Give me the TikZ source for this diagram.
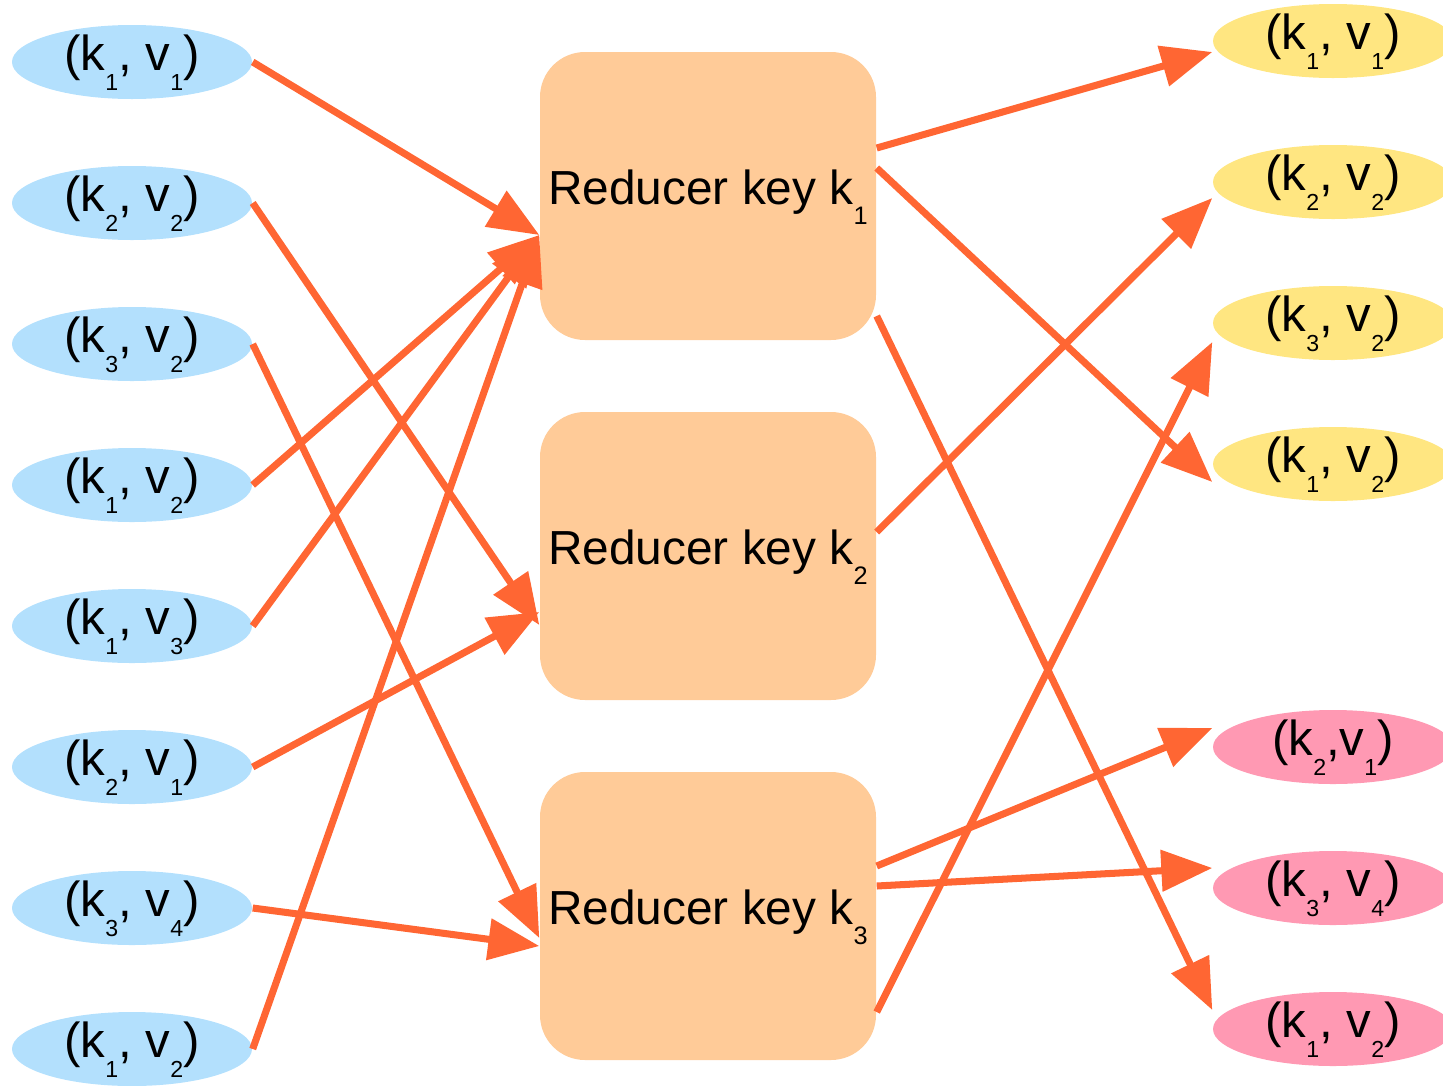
\documentclass[tikz,border=0pt]{standalone}
\usepackage{fontspec}
\setmainfont{Liberation Sans}
\usepackage{xcolor}
\usetikzlibrary{shapes,arrows.meta,positioning}

\definecolor{pairblue}{HTML}{B3E0FD}
\definecolor{pairyellow}{HTML}{FFE681}
\definecolor{pairpink}{HTML}{FF99B3}
\definecolor{reducerfill}{HTML}{FFCB98}
\definecolor{flowred}{HTML}{FF6633}

% lowered subscript, as in the drawing
\newcommand{\lowsub}[2][6.6]{\raisebox{-0.41em}{\fontsize{#1}{#1}\selectfont #2}}

\tikzset{
  pair/.style={ellipse, minimum width=2.4cm, minimum height=0.74cm, inner sep=0pt,
    text height=9pt, text depth=4.4pt, font=\fontsize{14}{16}\selectfont},
  reducer/.style={rectangle, rounded corners=0.45cm, fill=reducerfill,
    minimum width=3.36cm, minimum height=2.88cm, inner sep=0pt,
    text height=9pt, text depth=4pt, font=\fontsize{13.6}{16}\selectfont},
  flow/.style={draw=flowred, line width=2pt, -{Triangle[length=14.5pt,width=11.5pt]}}
}

\begin{document}
\begin{tikzpicture}
\useasboundingbox (0,0) rectangle (14.43,-10.85);

% Map output pairs
\foreach \i/\k/\v in {1/1/1, 2/2/2, 3/3/2, 4/1/2, 5/1/3, 6/2/1, 7/3/4, 8/1/2} {
    \node[pair, fill=pairblue] (l\i) at (1.32, {-0.62-1.41*(\i-1)}) {(k\lowsub{\k}, v\lowsub{\v})};
}

% Reducers
\foreach \i/\y in {1/-1.96, 2/-5.56, 3/-9.16} {
    \node[reducer] (r\i) at (7.08, \y) {Reducer key k\lowsub[7.2]{\i}};
}

% Reduce output pairs
\foreach \i/\y/\k/\v in {1/-0.41/1/1, 2/-1.82/2/2, 3/-3.23/3/2, 4/-4.64/1/2} {
    \node[pair, fill=pairyellow] (y\i) at (13.33, \y) {(k\lowsub{\k}, v\lowsub{\v})};
}
\node[pair, fill=pairpink] (p1) at (13.33, -7.47) {(k\lowsub{2},v\lowsub{1})};
\node[pair, fill=pairpink] (p2) at (13.33, -8.88) {(k\lowsub{3}, v\lowsub{4})};
\node[pair, fill=pairpink] (p3) at (13.33, -10.29) {(k\lowsub{1}, v\lowsub{2})};

% Shuffle
\draw[flow] (l1.east) -- ([yshift=-0.39cm]r1.west);
\draw[flow] (l4.east) -- ([yshift=-0.39cm]r1.west);
\draw[flow] (l5.east) -- ([yshift=-0.39cm]r1.west);
\draw[flow] (l8.east) -- ([yshift=-0.39cm]r1.west);
\draw[flow] (l2.east) -- ([yshift=-0.69cm]r2.west);
\draw[flow] (l6.east) -- ([yshift=-0.56cm]r2.west);
\draw[flow] (l3.east) -- ([yshift=-0.22cm]r3.west);
\draw[flow] (l7.east) -- ([yshift=-0.3cm]r3.west);

% Reduce
\draw[flow] ([yshift=0.48cm]r1.east) -- ([yshift=-0.11cm]y1.west);
\draw[flow] ([yshift=0.28cm]r1.east) -- ([yshift=-0.18cm]y4.west);
\draw[flow] ([yshift=-1.2cm]r1.east) -- ([yshift=0.19cm]p3.west);
\draw[flow] ([yshift=0.24cm]r2.east) -- ([yshift=-0.16cm]y2.west);
\draw[flow] ([yshift=0.5cm]r3.east) -- ([yshift=0.19cm]p1.west);
\draw[flow] ([yshift=0.3cm]r3.east) -- ([yshift=0.2cm]p2.west);
\draw[flow] ([yshift=-0.96cm]r3.east) -- ([yshift=-0.19cm]y3.west);

\end{tikzpicture}
\end{document}
